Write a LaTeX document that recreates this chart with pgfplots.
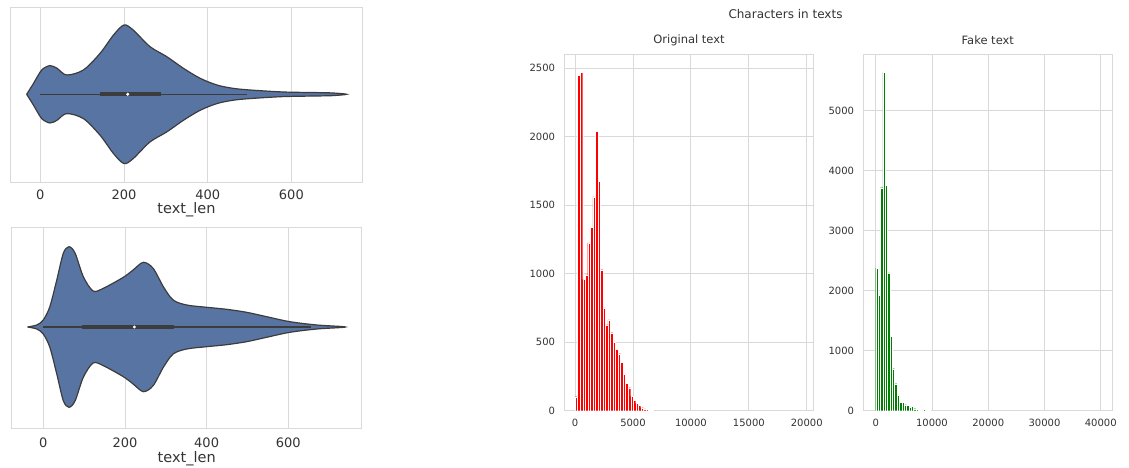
\documentclass[border=0pt]{standalone}
\usepackage{fontspec}
\setmainfont{DejaVu Sans}
\usepackage{pgfplots}
\usepackage{pgfplotstable}
\pgfplotsset{compat=1.18}

\definecolor{vblue}{HTML}{5874A3}
\definecolor{vedge}{HTML}{3C3C3C}
\definecolor{gridc}{HTML}{D9D9D9}
\definecolor{txt}{HTML}{333333}

% histogram counts, one row per bin
\pgfplotstableread{
i n
0 102
1 2446
2 2470
3 958
4 990
5 1224
6 1339
7 1559
8 2038
9 1675
10 1029
11 750
12 626
13 662
14 569
15 502
16 448
17 416
18 353
19 265
20 202
21 168
22 105
23 78
24 53
25 39
26 22
27 14
28 9
29 4
30 2
}\orig

\pgfplotstableread{
i n
0 2378
1 1928
2 3717
3 5640
4 3757
5 2295
6 1240
7 700
8 450
9 262
10 140
11 140
12 100
13 90
14 62
15 73
16 33
17 22
18 8
19 4
20 28
21 3
22 2
}\fake

\pgfplotsset{
  base/.style={
    scale only axis,
    axis line style={draw=gridc, line width=0.9pt},
    grid style={draw=gridc, line width=0.9pt},
    major tick length=0pt,
    /pgf/number format/assume math mode=true,
    /pgf/number format/1000 sep={},
    scaled ticks=false,
    tick label style={text=txt},
  },
  violin/.style={
    base, xtick={0,200,400,600}, ytick=\empty, xmajorgrids,
    xticklabel style={font=\fontsize{13}{15}\selectfont},
    xlabel={text\_len},
    xlabel style={at={(axis description cs:0.5,0)}, anchor=center, text=txt,
      font=\fontsize{14.5}{17}\selectfont},
  },
  hist/.style={
    base, xmajorgrids, ymajorgrids, ymin=0,
    xticklabel style={font=\fontsize{10}{12}\selectfont, yshift=-4.6pt},
    yticklabel style={font=\fontsize{10}{12}\selectfont, xshift=-5.7pt},
    title style={at={(0.5,1)}, anchor=center, yshift=8.3pt, text=txt,
      font=\fontsize{11.5}{13}\selectfont},
  },
}

\begin{document}
\begin{tikzpicture}
\useasboundingbox (0,0) rectangle (1129pt,468pt);

% upper violin
\begin{axis}[violin, at={(10.7pt,285.7pt)}, anchor=south west,
  width=351.6pt, height=175pt, xmin=-70.7, xmax=769.5, ymin=-88, ymax=87,
  xticklabel style={yshift=-4.0pt}, xlabel style={yshift=-27.4pt}]
\addplot [fill=vblue, draw=vedge, line width=1.2pt, smooth, tension=0.5] coordinates {
  (-32.5,0) (-25,5) (-16,11) (-5,19) (5,25) (23,28.7) (40,26) (63,19.3)
  (103,24.3) (143,41) (175,59.3) (200,69.3) (222,64.3) (262,47.7) (302,37.7)
  (342,26) (382,16) (422,9.3) (460,6) (501,4.3) (581,2.3) (660,1.7) (700,1.3) (732,0)
  (700,-1.3) (660,-1.7) (581,-2.3) (501,-4.3) (460,-6) (422,-9.3) (382,-16)
  (342,-26) (302,-37.7) (262,-47.7) (222,-64.3) (200,-69.3) (175,-59.3) (143,-41)
  (103,-24.3) (63,-19.3) (40,-26) (23,-28.7) (5,-25) (-5,-19) (-16,-11) (-25,-5) (-32.5,0)};
\addplot [vedge, line width=1.1pt] coordinates {(0,0) (493,0)};
\addplot [vedge, line width=4.2pt] coordinates {(143,0) (288,0)};
\addplot [only marks, mark=*, mark size=1.3pt, white] coordinates {(209,0)};
\end{axis}

% lower violin
\begin{axis}[violin, at={(11.7pt,39.7pt)}, anchor=south west,
  width=350pt, height=201pt, xmin=-77.4, xmax=779.8, ymin=-101.3, ymax=99.7,
  xticklabel style={yshift=-6.3pt}, xlabel style={yshift=-30.4pt}]
\addplot [fill=vblue, draw=vedge, line width=1.2pt, smooth, tension=0.5] coordinates {
  (-39,0) (-16,2) (0,7) (16,20.3) (33,47) (49,73.7) (63,80.3) (78,73.7) (98,50.3)
  (122,36) (147,38.7) (196,49.7) (220,57) (245,64.7) (269,58.7) (294,40.3) (318,27)
  (351,22) (400,19.7) (449,17.7) (498,14.7) (547,10.3) (604,5.3) (670,2) (740,0)
  (670,-2) (604,-5.3) (547,-10.3) (498,-14.7) (449,-17.7) (400,-19.7) (351,-22)
  (318,-27) (294,-40.3) (269,-58.7) (245,-64.7) (220,-57) (196,-49.7) (147,-38.7)
  (122,-36) (98,-50.3) (78,-73.7) (63,-80.3) (49,-73.7) (33,-47) (16,-20.3) (0,-7)
  (-16,-2) (-39,0)};
\addplot [vedge, line width=1.1pt] coordinates {(0,0) (655,0)};
\addplot [vedge, line width=4.2pt] coordinates {(94,0) (321,0)};
\addplot [only marks, mark=*, mark size=1.3pt, white] coordinates {(223,0)};
\end{axis}

% original text histogram
\begin{axis}[hist, at={(564.3pt,57.3pt)}, anchor=south west,
  width=249.4pt, height=356.4pt, xmin=-930, xmax=20600, ymax=2600,
  xtick={0,5000,10000,15000,20000}, ytick={0,500,1000,1500,2000,2500},
  title={Original text}]
\addplot [ybar, bar width=218, bar shift=0pt, fill=red, draw=white, line width=0.25pt]
  table [x expr=\thisrow{i}*218+109, y=n] {\orig};
\end{axis}

% fake text histogram
\begin{axis}[hist, at={(863.3pt,57.3pt)}, anchor=south west,
  width=249pt, height=356.4pt, xmin=-2204, xmax=42060, ymax=5940,
  xtick={0,10000,20000,30000,40000}, ytick={0,1000,2000,3000,4000,5000},
  title={Fake text}]
\addplot [ybar, bar width=420, bar shift=0pt, fill=green!50!black, draw=white, line width=0.25pt]
  table [x expr=\thisrow{i}*420+210, y=n] {\fake};
\end{axis}

\node [text=txt, font=\fontsize{12}{14}\selectfont] at (785.5pt,454pt) {Characters in texts};
\end{tikzpicture}
\end{document}
